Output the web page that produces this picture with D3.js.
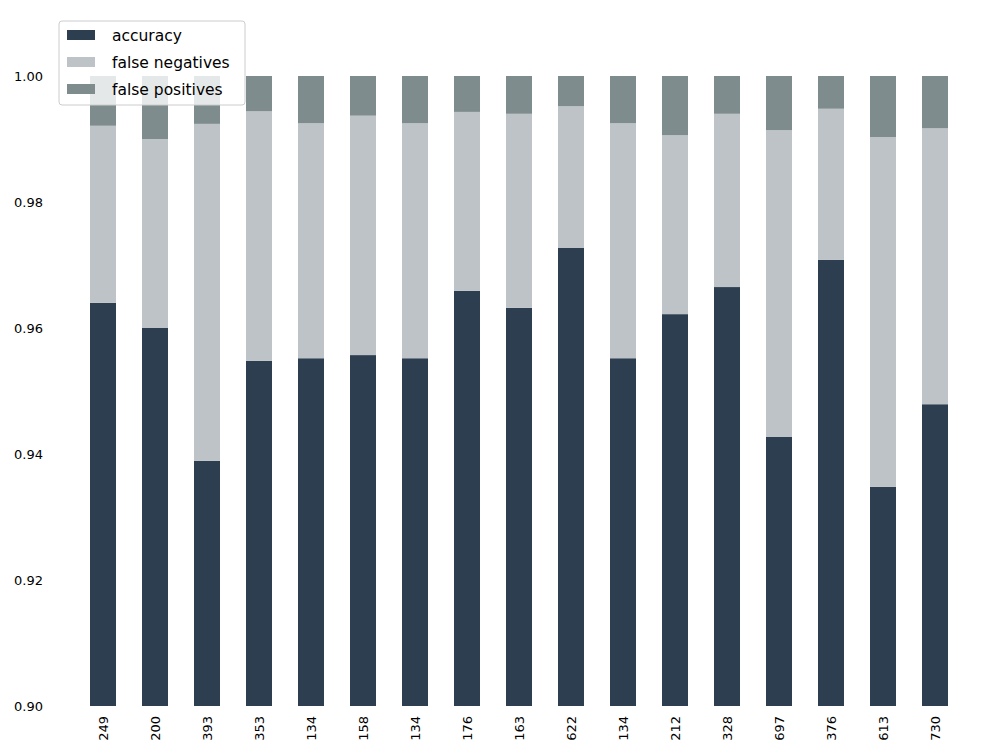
<!DOCTYPE html>
<html><head><meta charset="utf-8">
<script src="https://cdn.jsdelivr.net/npm/d3@7"></script>
<style>body{margin:0;background:#fff}text{font-family:"DejaVu Sans",sans-serif}</style>
</head><body><svg width="994" height="752"></svg>
<script>
'use strict';
const labels = ['249','200','393','353','134','158','134','176','163','622','134','212','328','697','376','613','730'];
const accuracy = [0.9640,0.9600,0.9389,0.9548,0.9552,0.9557,0.9552,0.9659,0.9632,0.9727,0.9552,0.9622,0.9665,0.9427,0.9708,0.9348,0.9479];
const fnTop = [0.9921,0.9900,0.9924,0.9944,0.9925,0.9937,0.9925,0.9943,0.9940,0.9952,0.9925,0.9906,0.9940,0.9914,0.9948,0.9903,0.9917];
const yTicks = [0.90,0.92,0.94,0.96,0.98,1.00];
const series = ['accuracy','false negatives','false positives'];
const colors = ['#2c3e50','#bdc3c7','#7f8c8d'];

const svg = d3.select('svg');
const x = d3.scaleBand().domain(d3.range(labels.length)).range([77,961]).paddingInner(0.5).paddingOuter(0.25);
const y = d3.scaleLinear().domain([0.9,1.0]).range([706,76]);

// segments: [bottom, top] per series
const segs = [];
labels.forEach((l,i) => {
  segs.push({i, k:0, lo:0.9, hi:accuracy[i]});
  segs.push({i, k:1, lo:accuracy[i], hi:fnTop[i]});
  segs.push({i, k:2, lo:fnTop[i], hi:1});
});

svg.append('g').selectAll('rect').data(segs).join('rect')
  .attr('fill',d=>colors[d.k])
  .attr('x',d=>x(d.i)).attr('width',x.bandwidth())
  .attr('y',d=>y(d.hi)).attr('height',d=>y(d.lo)-y(d.hi));

const ya = svg.append('g').attr('transform','translate(46,0)')
  .call(d3.axisLeft(y).tickValues(yTicks).tickFormat(d3.format('.2f')).tickSize(0));
ya.select('.domain').remove();
ya.selectAll('text').attr('font-size',13).attr('fill','#000');

const xa = svg.append('g').attr('transform','translate(0,712)')
  .call(d3.axisBottom(x).tickFormat(i=>labels[i]).tickSize(0));
xa.select('.domain').remove();
xa.selectAll('text').attr('font-size',13).attr('fill','#000')
  .attr('transform','rotate(-90)').attr('text-anchor','end').attr('dx',0).attr('dy','0.35em').attr('y',0).attr('x',-4);

const lg = svg.append('g').attr('transform','translate(59,21)');
lg.append('rect').attr('width',186).attr('height',84).attr('rx',3).attr('fill','#fff').attr('fill-opacity',0.8).attr('stroke','#ccc');
series.forEach((s,k)=>{
  lg.append('rect').attr('x',8).attr('y',9+k*27).attr('width',28).attr('height',10).attr('fill',colors[k]);
  lg.append('text').attr('x',53).attr('y',20+k*27).attr('font-size',15.5).text(s);
});
</script></body></html>
